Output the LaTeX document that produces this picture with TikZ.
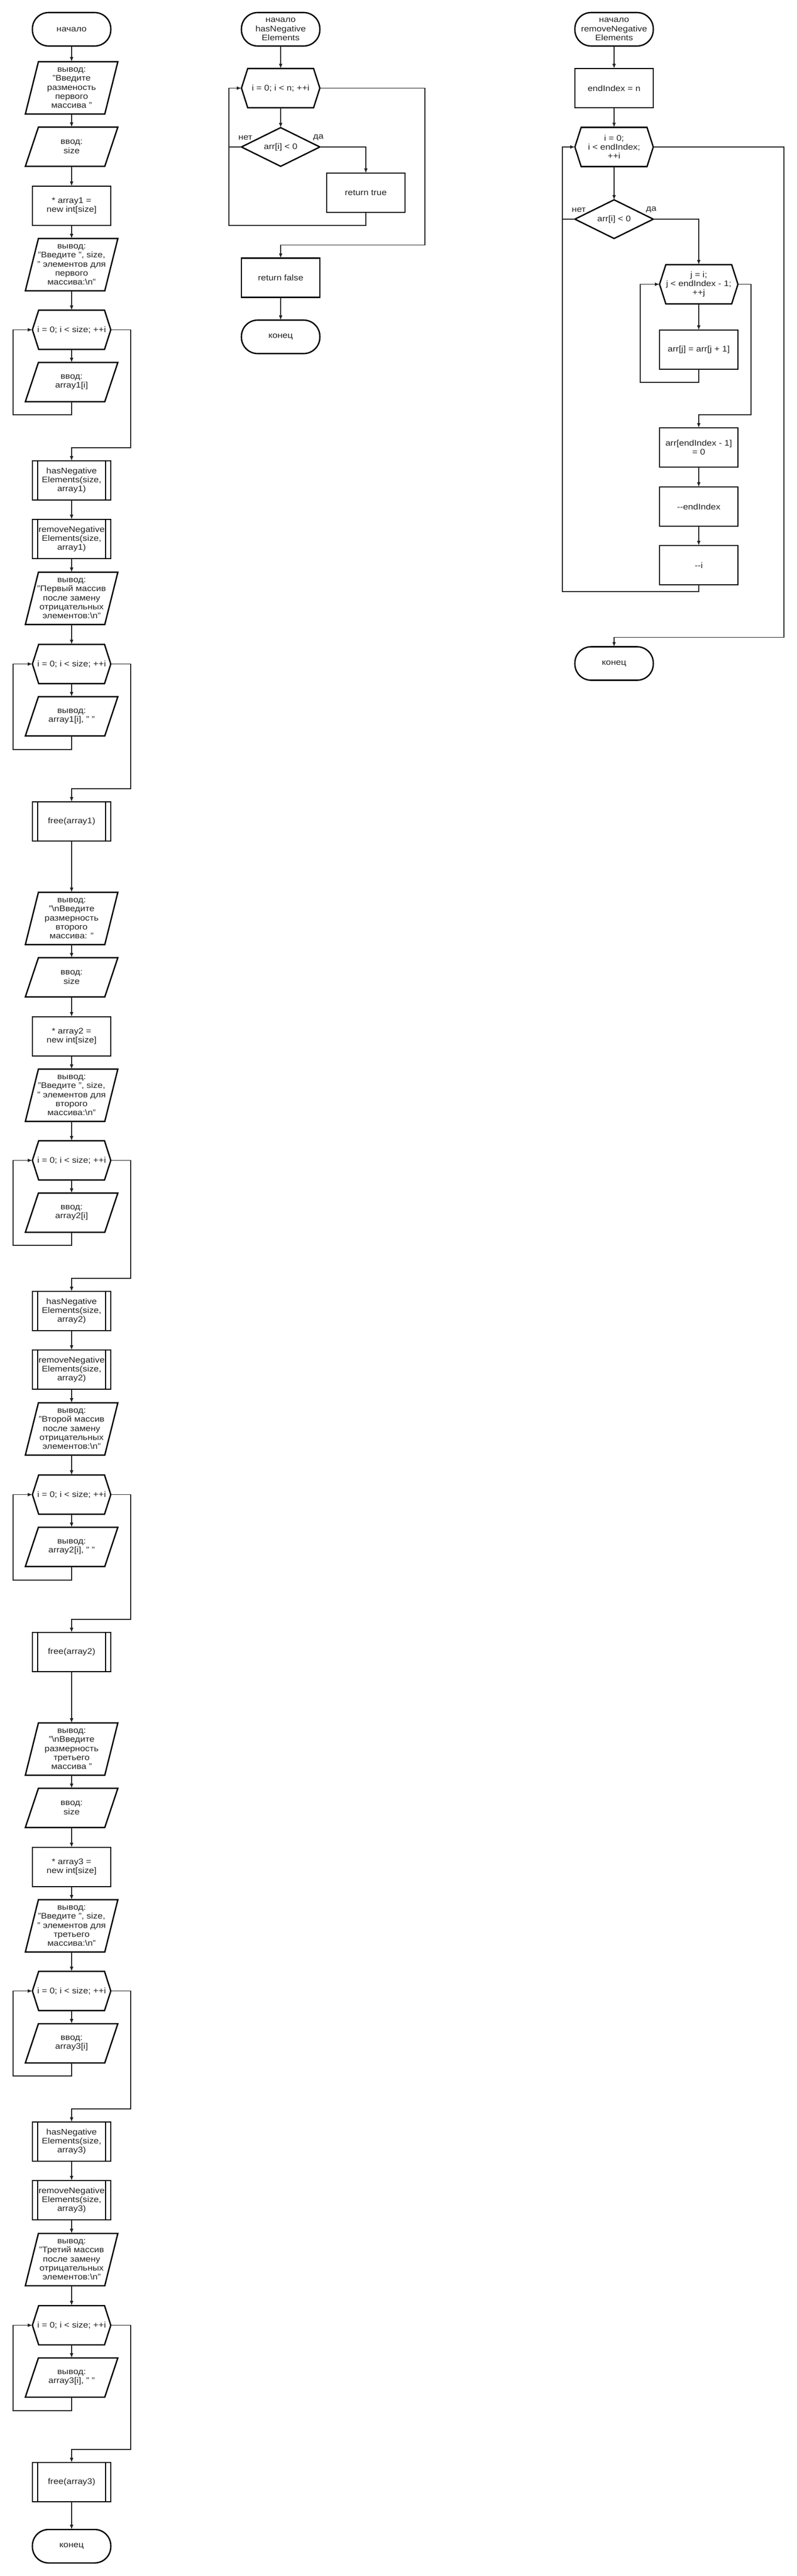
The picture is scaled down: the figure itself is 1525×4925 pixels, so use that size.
\documentclass[tikz,border=0pt]{standalone}
\usepackage{fontspec}
\setmainfont{Liberation Sans}[FakeStretch=1.12]
\usetikzlibrary{arrows.meta,calc}
\definecolor{ink}{HTML}{222222}
\newcommand\myio[1]{\draw[shp] ([xshift=25pt]#1.north west) -- (#1.north east) -- ([xshift=-25pt]#1.south east) -- (#1.south west) -- cycle;}
\newcommand\myhex[1]{\draw[shp] ([xshift=12pt]#1.north west) -- ([xshift=-12pt]#1.north east) -- (#1.east) -- ([xshift=-12pt]#1.south east) -- ([xshift=12pt]#1.south west) -- (#1.west) -- cycle;}
\newcommand\mydec[1]{\draw[shp] (#1.north) -- (#1.east) -- (#1.south) -- (#1.west) -- cycle;}
\newcommand\mysub[1]{\draw[line width=1.5pt] ([xshift=10pt]#1.north west) -- ([xshift=10pt]#1.south west) ([xshift=-10pt]#1.north east) -- ([xshift=-10pt]#1.south east);}
\newcommand\bsn{\textbackslash n}
\tikzset{
  base/.style={inner sep=0pt, outer sep=0pt, align=center, font=\fontsize{15.5}{17.3}\selectfont, text=ink},
  term/.style={base, rectangle, rounded corners=31pt, draw=black, line width=2.6pt, minimum width=150pt, minimum height=64pt},
  procbox/.style={base, rectangle, draw=black, line width=2.6pt, minimum width=150pt, minimum height=75pt},
  subbox/.style={procbox},
  iobox/.style={base, minimum width=177pt, minimum height=#1},
  iobox/.default=75pt,
  hexbox/.style={base, minimum width=150pt, minimum height=75pt},
  decbox/.style={base, minimum width=150pt, minimum height=74pt},
  shp/.style={draw=black, line width=2.6pt, line join=miter},
  conn/.style={draw=ink, line width=1.6pt, -{Latex[length=9pt,width=7pt]}},
  plain/.style={draw=ink, line width=1.6pt},
  lbl/.style={font=\fontsize{15.5}{17.3}\selectfont, text=ink, inner sep=0pt}
}
\begin{document}
\begin{tikzpicture}[x=1pt,y=-1pt]
\useasboundingbox (0,0) rectangle (1525,4925);
% ================= column 1 =================
\node[term] (st) at (137,56) {начало};
% ---- section 1
\node[iobox=100pt] (o1a) at (137,168) {вывод:\\"Введите\\разменость\\первого\\массива "};
\node[iobox] (i1a) at (137,280.5) {ввод:\\size};
\node[procbox] (r1) at (137,393.5) {* array1 =\\new int[size]};
\node[iobox=100pt] (o1b) at (137,506) {вывод:\\"Введите ", size,\\" элементов для\\первого\\массива:\bsn"};
\node[hexbox] (h1a) at (137,630.5) {i = 0; i < size; ++i};
\node[iobox] (i1b) at (137,730.5) {ввод:\\array1[i]};
\node[subbox] (hn1) at (137,918.5) {hasNegative\\Elements(size,\\array1)};
\node[subbox] (rn1) at (137,1030.5) {removeNegative\\Elements(size,\\array1)};
\node[iobox=100pt] (o1c) at (137,1144) {вывод:\\"Первый массив\\после замену\\отрицательных\\элементов:\bsn"};
\node[hexbox] (h1b) at (137,1269.5) {i = 0; i < size; ++i};
\node[iobox] (o1d) at (137,1369.5) {вывод:\\array1[i], " "};
\node[subbox] (f1) at (137,1570.5) {free(array1)};
% ---- section 2
\node[iobox=100pt] (o2a) at (137,1756) {вывод:\\"\bsn Введите\\размерность\\второго\\массива: "};
\node[iobox] (i2a) at (137,1868.5) {ввод:\\size};
\node[procbox] (r2) at (137,1981.5) {* array2 =\\new int[size]};
\node[iobox=100pt] (o2b) at (137,2094) {вывод:\\"Введите ", size,\\" элементов для\\второго\\массива:\bsn"};
\node[hexbox] (h2a) at (137,2218.5) {i = 0; i < size; ++i};
\node[iobox] (i2b) at (137,2318.5) {ввод:\\array2[i]};
\node[subbox] (hn2) at (137,2506.5) {hasNegative\\Elements(size,\\array2)};
\node[subbox] (rn2) at (137,2618.5) {removeNegative\\Elements(size,\\array2)};
\node[iobox=100pt] (o2c) at (137,2732) {вывод:\\"Второй массив\\после замену\\отрицательных\\элементов:\bsn"};
\node[hexbox] (h2b) at (137,2857.5) {i = 0; i < size; ++i};
\node[iobox] (o2d) at (137,2957.5) {вывод:\\array2[i], " "};
\node[subbox] (f2) at (137,3158.5) {free(array2)};
% ---- section 3
\node[iobox=100pt] (o3a) at (137,3344) {вывод:\\"\bsn Введите\\размерность\\третьего\\массива "};
\node[iobox] (i3a) at (137,3456.5) {ввод:\\size};
\node[procbox] (r3) at (137,3569.5) {* array3 =\\new int[size]};
\node[iobox=100pt] (o3b) at (137,3682) {вывод:\\"Введите ", size,\\" элементов для\\третьего\\массива:\bsn"};
\node[hexbox] (h3a) at (137,3806.5) {i = 0; i < size; ++i};
\node[iobox] (i3b) at (137,3906.5) {ввод:\\array3[i]};
\node[subbox] (hn3) at (137,4094.5) {hasNegative\\Elements(size,\\array3)};
\node[subbox] (rn3) at (137,4206.5) {removeNegative\\Elements(size,\\array3)};
\node[iobox=100pt] (o3c) at (137,4320) {вывод:\\"Третий массив\\после замену\\отрицательных\\элементов:\bsn"};
\node[hexbox] (h3b) at (137,4445.5) {i = 0; i < size; ++i};
\node[iobox] (o3d) at (137,4545.5) {вывод:\\array3[i], " "};
\node[subbox] (f3) at (137,4745.5) {free(array3)};
\node[term] (en) at (137,4868) {конец};
% outlines col 1
\foreach \n in {o1a,i1a,o1b,i1b,o1c,o1d,o2a,i2a,o2b,i2b,o2c,o2d,o3a,i3a,o3b,i3b,o3c,o3d}{\myio{\n}}
\foreach \n in {h1a,h1b,h2a,h2b,h3a,h3b}{\myhex{\n}}
\foreach \n in {hn1,rn1,f1,hn2,rn2,f2,hn3,rn3,f3}{\mysub{\n}}
% connectors col 1
\draw[conn] (st) -- (o1a);
\foreach \s/\p in {1/st,2/f1,3/f2}{
  \ifnum\s>1 \draw[conn] (\p) -- (o\s a); \fi
  \draw[conn] (o\s a) -- (i\s a);
  \draw[conn] (i\s a) -- (r\s);
  \draw[conn] (r\s) -- (o\s b);
  \draw[conn] (o\s b) -- (h\s a);
  \draw[conn] (h\s a) -- (i\s b);
  \draw[conn] (i\s b.south) -- ++(0,25) -| ([xshift=-37pt]h\s a.west) -- (h\s a.west);
  \draw[conn] (h\s a.east) -- ++(38,0) |- ([yshift=25pt]hn\s.north) -- (hn\s.north);
  \draw[conn] (hn\s) -- (rn\s);
  \draw[conn] (rn\s) -- (o\s c);
  \draw[conn] (o\s c) -- (h\s b);
  \draw[conn] (h\s b) -- (o\s d);
  \draw[conn] (o\s d.south) -- ++(0,26) -| ([xshift=-37pt]h\s b.west) -- (h\s b.west);
  \draw[conn] (h\s b.east) -- ++(38,0) |- ([yshift=25pt]f\s.north) -- (f\s.north);
}
\draw[conn] (f3) -- (en);
% ================= column 2 =================
\node[term] (s2) at (537,56) {начало\\hasNegative\\Elements};
\node[hexbox] (hA) at (537,168.5) {i = 0; i < n; ++i};
\node[decbox] (dA) at (537,281) {arr[i] < 0};
\node[procbox] (rt) at (700,368.5) {return true};
\node[procbox] (rf) at (537,531) {return false};
\node[term] (e2) at (537,644) {конец};
\myhex{hA}\mydec{dA}
\node[lbl, anchor=east] (nA) at ([xshift=21pt,yshift=18pt]dA.west) {нет};
\node[lbl, anchor=west] (yA) at ([xshift=-13pt,yshift=18pt]dA.east) {да};
\draw[conn] (s2) -- (hA);
\draw[conn] (hA) -- (dA);
\draw[conn] (dA.east) -| (rt.north);
\draw[plain] (dA.west) -- ++(-24,0);
\draw[conn] (rt.south) -- ++(0,25) -| ([xshift=-24pt]hA.west) -- (hA.west);
\draw[conn] (hA.east) -- ++(201,0) |- ([yshift=25pt]rf.north) -- (rf.north);
\draw[conn] (rf) -- (e2);
% ================= column 3 =================
\node[term] (s3) at (1175,56) {начало\\removeNegative\\Elements};
\node[procbox] (ei) at (1175,168.5) {endIndex = n};
\node[hexbox] (hB) at (1175,281) {i = 0;\\i < endIndex;\\++i};
\node[decbox] (dB) at (1175,419) {arr[i] < 0};
\node[hexbox] (hC) at (1337,543.5) {j = i;\\j < endIndex - 1;\\++j};
\node[procbox] (aj) at (1337,668.5) {arr[j] = arr[j + 1]};
\node[procbox] (ae) at (1337,855.5) {arr[endIndex - 1]\\= 0};
\node[procbox] (de) at (1337,968.5) {-{}-endIndex};
\node[procbox] (di) at (1337,1080.5) {-{}-i};
\node[term] (e3) at (1175,1268.5) {конец};
\myhex{hB}\myhex{hC}\mydec{dB}
\node[lbl, anchor=east] (nB) at ([xshift=21pt,yshift=18pt]dB.west) {нет};
\node[lbl, anchor=west] (yB) at ([xshift=-14pt,yshift=18pt]dB.east) {да};
\draw[conn] (s3) -- (ei);
\draw[conn] (ei) -- (hB);
\draw[conn] (hB) -- (dB);
\draw[conn] (dB.east) -| (hC.north);
\draw[plain] (dB.west) -- ++(-24,0);
\draw[conn] (hC) -- (aj);
\draw[conn] (aj.south) -- ++(0,25) -| ([xshift=-37pt]hC.west) -- (hC.west);
\draw[conn] (hC.east) -- ++(25,0) |- ([yshift=25pt]ae.north) -- (ae.north);
\draw[conn] (ae) -- (de);
\draw[conn] (de) -- (di);
\draw[conn] (di.south) -- ++(0,13) -| ([xshift=-24pt]hB.west) -- (hB.west);
\draw[conn] (hB.east) -- ++(250,0) |- ([yshift=18pt]e3.north) -- (e3.north);
\end{tikzpicture}
\end{document}
